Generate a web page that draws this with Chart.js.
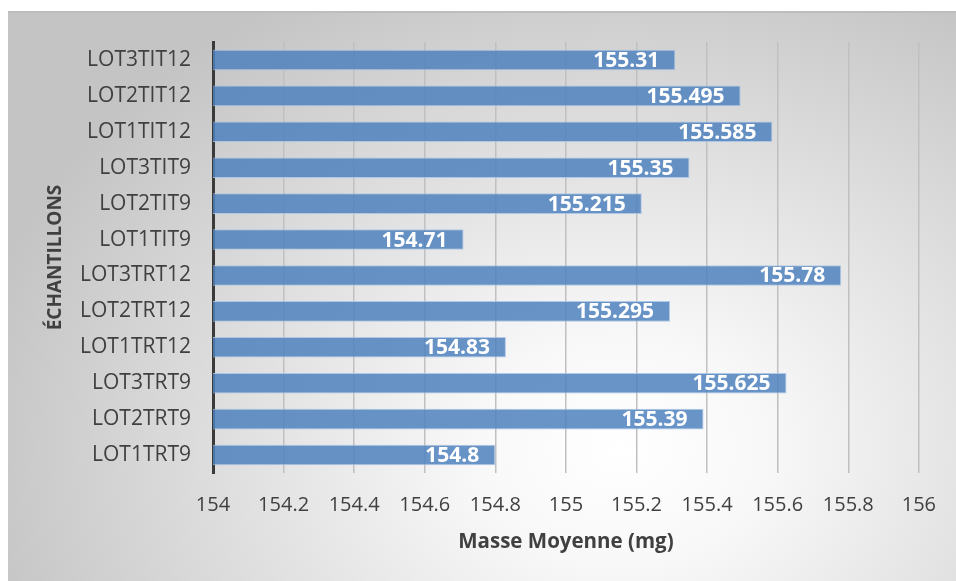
<!DOCTYPE html>
<html>
<head>
<meta charset="utf-8">
<script src="https://cdn.jsdelivr.net/npm/chart.js@4/dist/chart.umd.min.js"></script>
<style>
  html, body { margin: 0; padding: 0; background: #ffffff; }
  #wrap { width: 956px; height: 581px; position: relative; }
</style>
</head>
<body>
<div id="wrap"><canvas id="chart" width="956" height="581"></canvas></div>
<script>
// Sample names, top to bottom
const samples = [
  'LOT3TIT12', 'LOT2TIT12', 'LOT1TIT12',
  'LOT3TIT9', 'LOT2TIT9', 'LOT1TIT9',
  'LOT3TRT12', 'LOT2TRT12', 'LOT1TRT12',
  'LOT3TRT9', 'LOT2TRT9', 'LOT1TRT9'
];
// Mean mass per sample (mg)
const meanMass = [
  155.31, 155.495, 155.585,
  155.35, 155.215, 154.71,
  155.78, 155.295, 154.83,
  155.625, 155.39, 154.8
];
// Axis range and titles
const xMin = 154;
const xMax = 156;
const xStep = 0.2;
const xTitle = 'Masse Moyenne (mg)';
const yTitle = 'ÉCHANTILLONS';

const FONT = "'Open Sans', 'Liberation Sans', sans-serif";
const INK = '#404040';

// Framed panel with a soft radial shading behind everything
const panelBackground = {
  id: 'panelBackground',
  beforeDraw(chart) {
    const ctx = chart.ctx;
    const W = chart.width, H = chart.height;
    ctx.save();
    ctx.fillStyle = '#ffffff';
    ctx.fillRect(0, 0, W, H);
    const x0 = 8, y0 = 12;
    const cx = 620, cy = 450, rx = 660, ry = 520;
    ctx.save();
    ctx.beginPath();
    ctx.rect(x0, y0, W - x0, H - y0);
    ctx.clip();
    ctx.translate(cx, cy);
    ctx.scale(1, ry / rx);
    const g = ctx.createRadialGradient(0, 0, 0, 0, 0, rx);
    g.addColorStop(0, '#ffffff');
    g.addColorStop(0.22, '#f8f8f8');
    g.addColorStop(1, '#c4c4c4');
    ctx.fillStyle = g;
    ctx.fillRect(-cx, -cy * rx / ry, W * 2, H * 2 * rx / ry);
    ctx.restore();
    ctx.strokeStyle = '#bdbdbd';
    ctx.lineWidth = 2;
    ctx.beginPath();
    ctx.moveTo(x0, y0);
    ctx.lineTo(W, y0);
    ctx.stroke();
    ctx.restore();
  }
};

// White value labels placed inside the end of each bar
const barValueLabels = {
  id: 'barValueLabels',
  afterDatasetsDraw(chart) {
    const ctx = chart.ctx;
    const meta = chart.getDatasetMeta(0);
    const values = chart.data.datasets[0].data;
    ctx.save();
    ctx.fillStyle = '#ffffff';
    ctx.font = 'bold 21px ' + FONT;
    ctx.textAlign = 'right';
    ctx.textBaseline = 'middle';
    meta.data.forEach((bar, i) => {
      ctx.fillText(String(values[i]), bar.x - 16, bar.y + 1);
    });
    ctx.restore();
  }
};

new Chart(document.getElementById('chart'), {
  type: 'bar',
  data: {
    labels: samples,
    datasets: [{
      data: meanMass,
      backgroundColor: 'rgba(79, 129, 189, 0.85)',
      borderColor: 'rgba(170, 196, 228, 0.9)',
      borderWidth: 1,
      barPercentage: 0.575,
      categoryPercentage: 1.0
    }]
  },
  options: {
    indexAxis: 'y',
    responsive: false,
    animation: false,
    devicePixelRatio: 1,
    layout: { padding: { left: 0, top: 42, right: 34, bottom: 0 } },
    plugins: {
      legend: { display: false },
      tooltip: { enabled: false }
    },
    scales: {
      x: {
        type: 'linear',
        min: xMin,
        max: xMax,
        ticks: {
          stepSize: xStep,
          padding: 20,
          color: INK,
          font: { family: FONT, size: 20 },
          callback: (v) => String(Math.round(v * 10) / 10)
        },
        grid: {
          color: '#c0c0c0',
          lineWidth: 1.5,
          drawTicks: false
        },
        border: { display: false },
        title: {
          display: true,
          text: xTitle,
          color: INK,
          font: { family: FONT, size: 20.5, weight: 'bold' },
          padding: { top: 0, bottom: 27 }
        },
        afterFit(scale) { scale.height = 108; }
      },
      y: {
        ticks: {
          padding: 22,
          color: INK,
          font: { family: FONT, size: 21 }
        },
        grid: { display: false, drawTicks: false },
        border: { display: true, color: '#3a3a3a', width: 3 },
        title: {
          display: true,
          text: yTitle,
          color: INK,
          font: { family: FONT, size: 19, weight: 'bold' },
          padding: { top: 44, bottom: 0 }
        },
        afterFit(scale) { scale.width = 213; }
      }
    }
  },
  plugins: [panelBackground, barValueLabels]
});
</script>
</body>
</html>
